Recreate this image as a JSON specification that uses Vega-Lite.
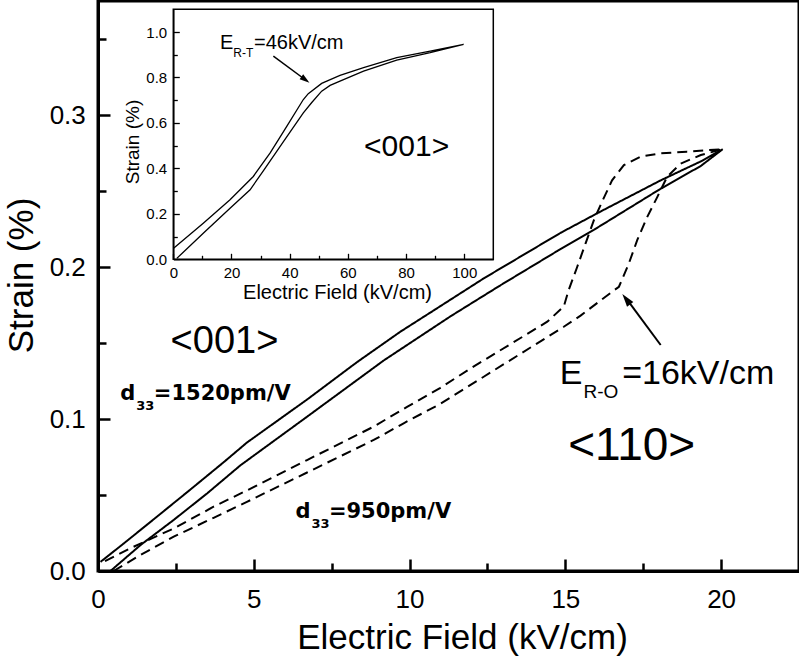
{
  "$schema": "https://vega.github.io/schema/vega-lite/v6.json",
  "width": 701,
  "height": 570,
  "autosize": {"type": "none"},
  "padding": {"left": 98, "top": 1, "right": 0, "bottom": 87},
  "background": "white",
  "view": {"stroke": "black", "strokeWidth": 3},
  "config": {
    "font": "Liberation Sans",
    "axis": {
      "labelFont": "Liberation Sans",
      "titleFont": "Liberation Sans",
      "titleFontWeight": "normal",
      "labelColor": "black",
      "titleColor": "black",
      "domainColor": "black",
      "tickColor": "black",
      "grid": false,
      "labelFlush": false,
      "labelOverlap": false
    }
  },
  "datasets": {
    "main": [
      {"s": "solid", "i": 1, "x": 0.4, "y": 0.0},
      {"s": "solid", "i": 2, "x": 1.36, "y": 0.017},
      {"s": "solid", "i": 3, "x": 2.43, "y": 0.0336},
      {"s": "solid", "i": 4, "x": 3.5, "y": 0.051},
      {"s": "solid", "i": 5, "x": 4.57, "y": 0.0695},
      {"s": "solid", "i": 6, "x": 6.71, "y": 0.1015},
      {"s": "solid", "i": 7, "x": 9.17, "y": 0.1385},
      {"s": "solid", "i": 8, "x": 11.31, "y": 0.1675},
      {"s": "solid", "i": 9, "x": 12.92, "y": 0.188},
      {"s": "solid", "i": 10, "x": 14.74, "y": 0.2105},
      {"s": "solid", "i": 11, "x": 15.92, "y": 0.2245},
      {"s": "solid", "i": 12, "x": 18.06, "y": 0.2515},
      {"s": "solid", "i": 13, "x": 19.35, "y": 0.2665},
      {"s": "solid", "i": 14, "x": 20.05, "y": 0.2775},
      {"s": "solid", "i": 15, "x": 19.35, "y": 0.2695},
      {"s": "solid", "i": 16, "x": 18.06, "y": 0.257},
      {"s": "solid", "i": 17, "x": 16.13, "y": 0.2365},
      {"s": "solid", "i": 18, "x": 14.85, "y": 0.2225},
      {"s": "solid", "i": 19, "x": 12.38, "y": 0.1925},
      {"s": "solid", "i": 20, "x": 10.78, "y": 0.1715},
      {"s": "solid", "i": 21, "x": 9.71, "y": 0.1575},
      {"s": "solid", "i": 22, "x": 8.32, "y": 0.1375},
      {"s": "solid", "i": 23, "x": 6.71, "y": 0.1128},
      {"s": "solid", "i": 24, "x": 4.78, "y": 0.0845},
      {"s": "solid", "i": 25, "x": 4.03, "y": 0.0715},
      {"s": "solid", "i": 26, "x": 2.96, "y": 0.0535},
      {"s": "solid", "i": 27, "x": 1.89, "y": 0.0357},
      {"s": "solid", "i": 28, "x": 0.82, "y": 0.018},
      {"s": "solid", "i": 29, "x": 0.08, "y": 0.006},
      {"s": "dashed", "i": 1, "x": 0.5, "y": 0.0},
      {"s": "dashed", "i": 2, "x": 1.36, "y": 0.0105},
      {"s": "dashed", "i": 3, "x": 2.43, "y": 0.0226},
      {"s": "dashed", "i": 4, "x": 3.71, "y": 0.035},
      {"s": "dashed", "i": 5, "x": 4.78, "y": 0.0455},
      {"s": "dashed", "i": 6, "x": 6.71, "y": 0.0648},
      {"s": "dashed", "i": 7, "x": 8.85, "y": 0.0862},
      {"s": "dashed", "i": 8, "x": 9.81, "y": 0.0972},
      {"s": "dashed", "i": 9, "x": 10.99, "y": 0.11},
      {"s": "dashed", "i": 10, "x": 12.38, "y": 0.1278},
      {"s": "dashed", "i": 11, "x": 14.95, "y": 0.1607},
      {"s": "dashed", "i": 12, "x": 15.49, "y": 0.168},
      {"s": "dashed", "i": 13, "x": 16.13, "y": 0.178},
      {"s": "dashed", "i": 14, "x": 16.72, "y": 0.187},
      {"s": "dashed", "i": 15, "x": 17.04, "y": 0.2024},
      {"s": "dashed", "i": 16, "x": 17.31, "y": 0.2178},
      {"s": "dashed", "i": 17, "x": 17.63, "y": 0.233},
      {"s": "dashed", "i": 18, "x": 17.95, "y": 0.246},
      {"s": "dashed", "i": 19, "x": 18.27, "y": 0.2594},
      {"s": "dashed", "i": 20, "x": 18.7, "y": 0.268},
      {"s": "dashed", "i": 21, "x": 19.35, "y": 0.2737},
      {"s": "dashed", "i": 22, "x": 20.05, "y": 0.2775},
      {"s": "dashed", "i": 23, "x": 18.9, "y": 0.2759},
      {"s": "dashed", "i": 24, "x": 18.06, "y": 0.2748},
      {"s": "dashed", "i": 25, "x": 17.42, "y": 0.2726},
      {"s": "dashed", "i": 26, "x": 16.88, "y": 0.267},
      {"s": "dashed", "i": 27, "x": 16.5, "y": 0.257},
      {"s": "dashed", "i": 28, "x": 16.18, "y": 0.243},
      {"s": "dashed", "i": 29, "x": 15.92, "y": 0.231},
      {"s": "dashed", "i": 30, "x": 15.65, "y": 0.2156},
      {"s": "dashed", "i": 31, "x": 15.38, "y": 0.2},
      {"s": "dashed", "i": 32, "x": 15.11, "y": 0.185},
      {"s": "dashed", "i": 33, "x": 14.95, "y": 0.174},
      {"s": "dashed", "i": 34, "x": 14.42, "y": 0.164},
      {"s": "dashed", "i": 35, "x": 11.96, "y": 0.1333},
      {"s": "dashed", "i": 36, "x": 10.99, "y": 0.1205},
      {"s": "dashed", "i": 37, "x": 9.92, "y": 0.108},
      {"s": "dashed", "i": 38, "x": 8.85, "y": 0.095},
      {"s": "dashed", "i": 39, "x": 6.71, "y": 0.073},
      {"s": "dashed", "i": 40, "x": 4.78, "y": 0.053},
      {"s": "dashed", "i": 41, "x": 3.71, "y": 0.0423},
      {"s": "dashed", "i": 42, "x": 2.43, "y": 0.028},
      {"s": "dashed", "i": 43, "x": 1.04, "y": 0.015},
      {"s": "dashed", "i": 44, "x": 0.08, "y": 0.005}
    ],
    "inset": [
      {"i": 1, "x": 1.2, "y": 0.004},
      {"i": 2, "x": 10.3, "y": 0.115},
      {"i": 3, "x": 19.5, "y": 0.225},
      {"i": 4, "x": 26.4, "y": 0.306},
      {"i": 5, "x": 31, "y": 0.39},
      {"i": 6, "x": 37.8, "y": 0.517},
      {"i": 7, "x": 44.7, "y": 0.644},
      {"i": 8, "x": 47.6, "y": 0.69},
      {"i": 9, "x": 51.0, "y": 0.74},
      {"i": 10, "x": 53.9, "y": 0.765},
      {"i": 11, "x": 57.3, "y": 0.784},
      {"i": 12, "x": 65.4, "y": 0.828},
      {"i": 13, "x": 76.8, "y": 0.876},
      {"i": 14, "x": 88.3, "y": 0.909},
      {"i": 15, "x": 99.8, "y": 0.946},
      {"i": 16, "x": 88.3, "y": 0.916},
      {"i": 17, "x": 76.8, "y": 0.887},
      {"i": 18, "x": 65.4, "y": 0.843},
      {"i": 19, "x": 57.3, "y": 0.809},
      {"i": 20, "x": 51.0, "y": 0.774},
      {"i": 21, "x": 46.4, "y": 0.729},
      {"i": 22, "x": 44.7, "y": 0.703},
      {"i": 23, "x": 39, "y": 0.585},
      {"i": 24, "x": 33.3, "y": 0.468},
      {"i": 25, "x": 27.5, "y": 0.3645},
      {"i": 26, "x": 19.5, "y": 0.262},
      {"i": 27, "x": 10.3, "y": 0.159},
      {"i": 28, "x": 0, "y": 0.048}
    ]
  },
  "layer": [
    {
      "layer": [
        {
          "data": {"name": "main"},
          "mark": {"type": "line", "color": "black", "strokeWidth": 2, "strokeCap": "butt"},
          "encoding": {
            "x": {
              "field": "x", "type": "quantitative",
              "scale": {"domain": [0, 22.5], "nice": false, "zero": false},
              "axis": {
                "orient": "bottom",
                "values": [0, 2.5, 5, 7.5, 10, 12.5, 15, 17.5, 20],
                "labelExpr": "datum.value % 5 === 0 ? format(datum.value, 'd') : ''",
                "labelFontSize": 26,
                "labelPadding": 27,
                "tickSize": {"condition": {"test": "datum.value % 5 === 0", "value": -12}, "value": -8},
                "tickWidth": 2.5,
                "domainWidth": 3,
                "title": "Electric Field (kV/cm)",
                "titleFontSize": 35,
                "titleX": 364,
                "titleY": 77,
                "titleAlign": "center",
                "titleBaseline": "alphabetic",
                "zindex": 1
              }
            },
            "y": {
              "field": "y", "type": "quantitative",
              "scale": {"domain": [0, 0.375], "nice": false, "zero": false},
              "axis": {
                "orient": "left",
                "values": [0, 0.05, 0.1, 0.15, 0.2, 0.25, 0.3, 0.35],
                "labelExpr": "round(datum.value * 100) % 10 === 0 ? format(datum.value, '.1f') : ''",
                "labelFontSize": 26,
                "labelPadding": 24.7,
                "tickSize": {"condition": {"test": "round(datum.value * 100) % 10 === 0", "value": -12}, "value": -8},
                "tickWidth": 2.5,
                "domainWidth": 3,
                "title": "Strain (%)",
                "titleFontSize": 35,
                "titleX": -66,
                "titleY": 274,
                "titleAngle": 270,
                "titleAlign": "center",
                "titleBaseline": "alphabetic",
                "zindex": 1
              }
            },
            "order": {"field": "i", "type": "quantitative"},
            "strokeDash": {
              "field": "s", "type": "nominal",
              "scale": {"domain": ["solid", "dashed"], "range": [[1, 0], [10, 6]]},
              "legend": null
            }
          }
        },
        {
          "data": {"values": [{}]},
          "mark": {"type": "text", "text": "<001>", "font": "Liberation Sans", "fontSize": 38, "align": "center", "baseline": "alphabetic", "color": "black"},
          "encoding": {
            "x": {"datum": 4.06, "type": "quantitative"},
            "y": {"datum": 0.1434, "type": "quantitative"}
          }
        },
        {
          "data": {"values": [{}]},
          "mark": {"type": "text", "text": "<110>", "font": "Liberation Sans", "fontSize": 46, "align": "center", "baseline": "alphabetic", "color": "black"},
          "encoding": {
            "x": {"datum": 17.13, "type": "quantitative"},
            "y": {"datum": 0.073, "type": "quantitative"}
          }
        },
        {
          "data": {"values": [{}]},
          "mark": {"type": "text", "text": "d", "font": "DejaVu Sans", "fontWeight": "bold", "fontSize": 21, "align": "left", "baseline": "alphabetic", "color": "black"},
          "encoding": {
            "x": {"datum": 0.716, "type": "quantitative"},
            "y": {"datum": 0.1125, "type": "quantitative"}
          }
        },
        {
          "data": {"values": [{}]},
          "mark": {"type": "text", "text": "33", "font": "DejaVu Sans", "fontWeight": "bold", "fontSize": 13, "align": "left", "baseline": "alphabetic", "color": "black", "dx": 16, "dy": 10},
          "encoding": {
            "x": {"datum": 0.716, "type": "quantitative"},
            "y": {"datum": 0.1125, "type": "quantitative"}
          }
        },
        {
          "data": {"values": [{}]},
          "mark": {"type": "text", "text": "=1520pm/V", "font": "DejaVu Sans", "fontWeight": "bold", "fontSize": 21, "align": "left", "baseline": "alphabetic", "color": "black", "dx": 33.5},
          "encoding": {
            "x": {"datum": 0.716, "type": "quantitative"},
            "y": {"datum": 0.1125, "type": "quantitative"}
          }
        },
        {
          "data": {"values": [{}]},
          "mark": {"type": "text", "text": "d", "font": "DejaVu Sans", "fontWeight": "bold", "fontSize": 21, "align": "left", "baseline": "alphabetic", "color": "black"},
          "encoding": {
            "x": {"datum": 6.336, "type": "quantitative"},
            "y": {"datum": 0.0347, "type": "quantitative"}
          }
        },
        {
          "data": {"values": [{}]},
          "mark": {"type": "text", "text": "33", "font": "DejaVu Sans", "fontWeight": "bold", "fontSize": 13, "align": "left", "baseline": "alphabetic", "color": "black", "dx": 16, "dy": 10},
          "encoding": {
            "x": {"datum": 6.336, "type": "quantitative"},
            "y": {"datum": 0.0347, "type": "quantitative"}
          }
        },
        {
          "data": {"values": [{}]},
          "mark": {"type": "text", "text": "=950pm/V", "font": "DejaVu Sans", "fontWeight": "bold", "fontSize": 21, "align": "left", "baseline": "alphabetic", "color": "black", "dx": 33.5},
          "encoding": {
            "x": {"datum": 6.336, "type": "quantitative"},
            "y": {"datum": 0.0347, "type": "quantitative"}
          }
        },
        {
          "data": {"values": [{}]},
          "mark": {"type": "text", "text": "E", "font": "Liberation Sans", "fontSize": 34, "align": "left", "baseline": "alphabetic", "color": "black"},
          "encoding": {
            "x": {"datum": 14.82, "type": "quantitative"},
            "y": {"datum": 0.1228, "type": "quantitative"}
          }
        },
        {
          "data": {"values": [{}]},
          "mark": {"type": "text", "text": "R-O", "font": "Liberation Sans", "fontSize": 19, "align": "left", "baseline": "alphabetic", "color": "black", "dx": 23.7, "dy": 14},
          "encoding": {
            "x": {"datum": 14.82, "type": "quantitative"},
            "y": {"datum": 0.1228, "type": "quantitative"}
          }
        },
        {
          "data": {"values": [{}]},
          "mark": {"type": "text", "text": "=16kV/cm", "font": "Liberation Sans", "fontSize": 34, "align": "left", "baseline": "alphabetic", "color": "black", "dx": 62.4},
          "encoding": {
            "x": {"datum": 14.82, "type": "quantitative"},
            "y": {"datum": 0.1228, "type": "quantitative"}
          }
        },
        {
          "data": {"values": [{}]},
          "mark": {"type": "rule", "color": "black", "strokeWidth": 2},
          "encoding": {
            "x": {"datum": 18.06, "type": "quantitative"},
            "y": {"datum": 0.1487, "type": "quantitative"},
            "x2": {"datum": 17.0},
            "y2": {"datum": 0.178}
          }
        },
        {
          "data": {"values": [{}]},
          "mark": {"type": "point", "shape": "M0,0L-0.6,2L0.6,2Z", "filled": true, "color": "black", "opacity": 1, "size": 169, "angle": 323, "strokeWidth": 0},
          "encoding": {
            "x": {"datum": 16.83, "type": "quantitative"},
            "y": {"datum": 0.1822, "type": "quantitative"}
          }
        }
      ]
    },
    {
      "layer": [
        {
          "data": {"values": [{}]},
          "mark": {"type": "rect", "filled": false, "stroke": "black", "strokeWidth": 1.5},
          "encoding": {
            "x": {"datum": 0, "type": "quantitative"},
            "x2": {"datum": 110},
            "y": {"datum": 0, "type": "quantitative"},
            "y2": {"datum": 1.1}
          }
        },
        {
          "data": {"name": "inset"},
          "mark": {"type": "line", "color": "black", "strokeWidth": 1.3},
          "encoding": {
            "x": {
              "field": "x", "type": "quantitative",
              "scale": {"domain": [0, 110], "range": [75.3, 395.3], "nice": false, "zero": false},
              "axis": {
                "orient": "bottom",
                "offset": -311.7,
                "values": [0, 10, 20, 30, 40, 50, 60, 70, 80, 90, 100],
                "labelExpr": "datum.value % 20 === 0 ? format(datum.value, 'd') : ''",
                "labelFontSize": 15,
                "labelPadding": 12.3,
                "tickSize": {"condition": {"test": "datum.value % 20 === 0", "value": -6}, "value": -4},
                "tickWidth": 1.3,
                "domainWidth": 1.5,
                "title": "Electric Field (kV/cm)",
                "titleFontSize": 20,
                "titleX": 239,
                "titleY": 38.7,
                "titleAlign": "center",
                "titleBaseline": "alphabetic",
                "zindex": 1
              }
            },
            "y": {
              "field": "y", "type": "quantitative",
              "scale": {"domain": [0, 1.1], "range": [258.3, 8.3], "nice": false, "zero": false},
              "axis": {
                "orient": "left",
                "offset": -75.3,
                "values": [0, 0.1, 0.2, 0.3, 0.4, 0.5, 0.6, 0.7, 0.8, 0.9, 1.0],
                "labelExpr": "round(datum.value * 10) % 2 === 0 ? format(datum.value, '.1f') : ''",
                "labelFontSize": 15,
                "labelPadding": 12.6,
                "tickSize": {"condition": {"test": "round(datum.value * 10) % 2 === 0", "value": -6}, "value": -4},
                "tickWidth": 1.3,
                "domainWidth": 1.5,
                "title": "Strain (%)",
                "titleFontSize": 19,
                "titleX": -35.3,
                "titleY": 140.5,
                "titleAngle": 270,
                "titleAlign": "center",
                "titleBaseline": "alphabetic",
                "zindex": 1
              }
            },
            "order": {"field": "i", "type": "quantitative"}
          }
        },
        {
          "data": {"values": [{}]},
          "mark": {"type": "text", "text": "<001>", "font": "Liberation Sans", "fontSize": 30, "align": "center", "baseline": "alphabetic", "color": "black"},
          "encoding": {
            "x": {"datum": 80.2, "type": "quantitative"},
            "y": {"datum": 0.453, "type": "quantitative"}
          }
        },
        {
          "data": {"values": [{}]},
          "mark": {"type": "text", "text": "E", "font": "Liberation Sans", "fontSize": 20, "align": "left", "baseline": "alphabetic", "color": "black"},
          "encoding": {
            "x": {"datum": 16.06, "type": "quantitative"},
            "y": {"datum": 0.927, "type": "quantitative"}
          }
        },
        {
          "data": {"values": [{}]},
          "mark": {"type": "text", "text": "R-T", "font": "Liberation Sans", "fontSize": 12, "align": "left", "baseline": "alphabetic", "color": "black", "dx": 13.3, "dy": 8},
          "encoding": {
            "x": {"datum": 16.06, "type": "quantitative"},
            "y": {"datum": 0.927, "type": "quantitative"}
          }
        },
        {
          "data": {"values": [{}]},
          "mark": {"type": "text", "text": "=46kV/cm", "font": "Liberation Sans", "fontSize": 20, "align": "left", "baseline": "alphabetic", "color": "black", "dx": 34},
          "encoding": {
            "x": {"datum": 16.06, "type": "quantitative"},
            "y": {"datum": 0.927, "type": "quantitative"}
          }
        },
        {
          "data": {"values": [{}]},
          "mark": {"type": "rule", "color": "black", "strokeWidth": 1.5},
          "encoding": {
            "x": {"datum": 34.4, "type": "quantitative"},
            "y": {"datum": 0.894, "type": "quantitative"},
            "x2": {"datum": 45.5},
            "y2": {"datum": 0.789}
          }
        },
        {
          "data": {"values": [{}]},
          "mark": {"type": "point", "shape": "M0,0L-0.6,2L0.6,2Z", "filled": true, "color": "black", "opacity": 1, "size": 100, "angle": 126.4, "strokeWidth": 0},
          "encoding": {
            "x": {"datum": 46.8, "type": "quantitative"},
            "y": {"datum": 0.777, "type": "quantitative"}
          }
        }
      ]
    }
  ],
  "resolve": {"scale": {"x": "independent", "y": "independent"}}
}
